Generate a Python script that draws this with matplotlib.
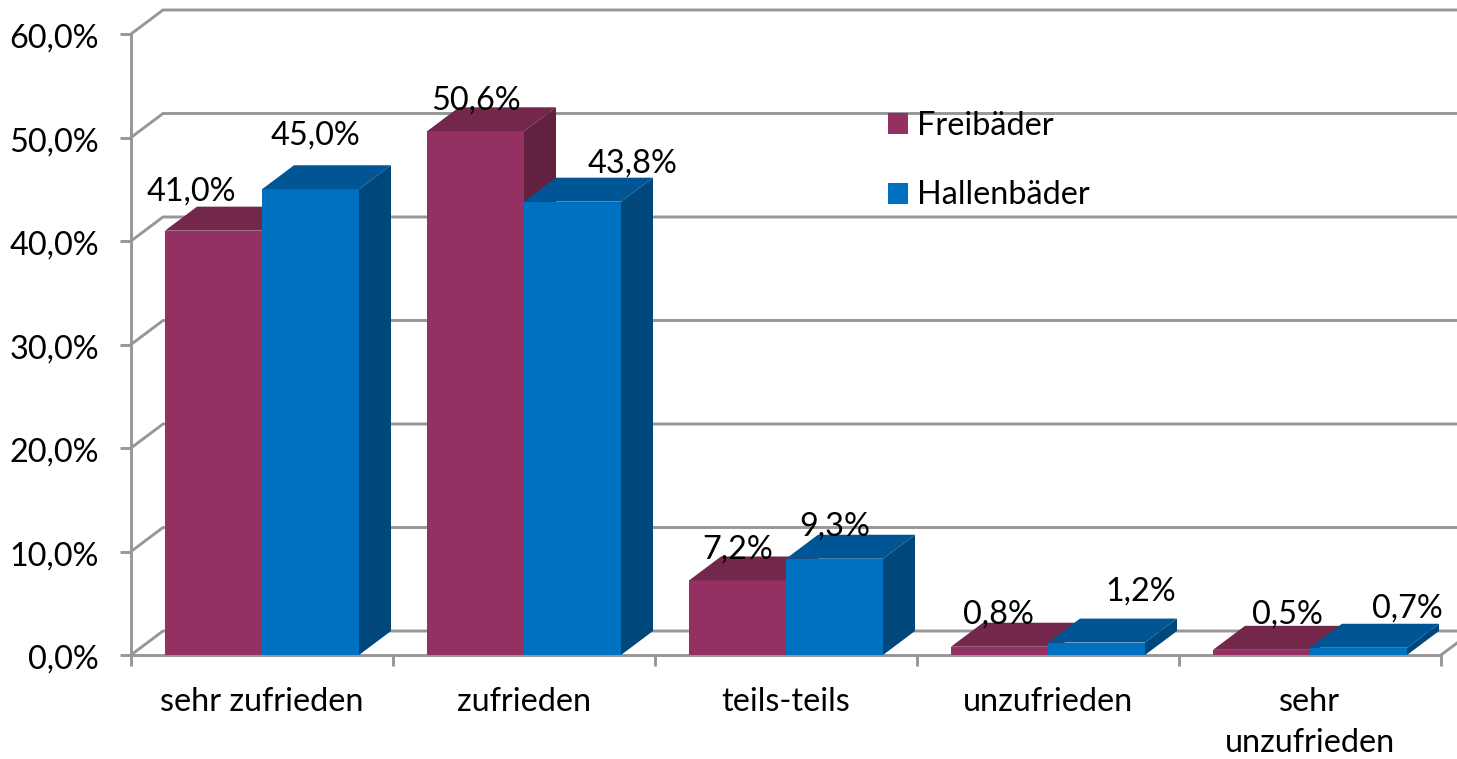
import matplotlib
matplotlib.use("Agg")
import matplotlib.pyplot as plt
from matplotlib.patches import Polygon, Patch
from matplotlib.transforms import ScaledTranslation

categories = ["sehr zufrieden", "zufrieden", "teils-teils", "unzufrieden", "sehr\nunzufrieden"]
freibaeder = [41.0, 50.6, 7.2, 0.8, 0.5]
hallenbaeder = [45.0, 43.8, 9.3, 1.2, 0.7]
y_ticks = [0, 10, 20, 30, 40, 50, 60]
y_tick_labels = ["0,0%", "10,0%", "20,0%", "30,0%", "40,0%", "50,0%", "60,0%"]
series_names = ["Freibäder", "Hallenbäder"]

W, H = 1457, 759
L, R, B, T = 131, 1441, 655, 34
GRID = "#979797"
FS = 23.3
plt.rcParams["font.family"] = ["Lato", "DejaVu Sans"]

fig = plt.figure(figsize=(W / 100, H / 100), dpi=100, facecolor="white")
ax = fig.add_axes([L / W, 1 - B / H, (R - L) / W, (B - T) / H])
ax.set_xlim(-0.5, 4.5)
ax.set_ylim(0, 60)
ax.patch.set_alpha(0)

px_x = (R - L) / 5
px_y = (B - T) / 60
dx = 32 / px_x
dy = 24 / px_y
bw = 97 / px_x

# back wall and floor
for v in y_ticks:
    ax.plot([-0.5, -0.5 + dx, 4.5 + dx], [v, v + dy, v + dy], color=GRID, lw=2.1,
            clip_on=False, zorder=1, solid_joinstyle="miter")
ax.plot([4.5, 4.5 + dx], [0, dy], color=GRID, lw=2.1, clip_on=False, zorder=1)

styles = [("#953162", "#72274b", "#62223f"), ("#0070c0", "#005694", "#00487c")]
offsets = [
    [(-22.5, 39), (0, 31), (0, 31), (-1, 32), (26, 35)],
    [(4.5, 54), (59.5, 38), (0, 32), (44.5, 51), (48.5, 39)],
]
label_texts = [[f"{v:.1f}%".replace(".", ",") for v in s] for s in (freibaeder, hallenbaeder)]

z = 3
for i in range(len(categories)):
    for s, vals in enumerate((freibaeder, hallenbaeder)):
        v = vals[i]
        x0 = i - bw + s * bw
        x1 = x0 + bw
        front, top, side = styles[s]
        ax.bar(x0, v, bw, align="edge", color=front, lw=0, zorder=z, clip_on=False)
        ax.add_patch(Polygon([(x0, v), (x1, v), (x1 + dx, v + dy), (x0 + dx, v + dy)],
                             closed=True, fc=top, ec="none", zorder=z, clip_on=False))
        ax.add_patch(Polygon([(x1, 0), (x1 + dx, dy), (x1 + dx, v + dy), (x1, v)],
                             closed=True, fc=side, ec="none", zorder=z, clip_on=False))
        z += 1
for s, vals in enumerate((freibaeder, hallenbaeder)):
    for i, v in enumerate(vals):
        xc = i - bw + s * bw + bw / 2
        ox, oy = offsets[s][i]
        ax.annotate(label_texts[s][i], (xc, v), xytext=(ox * 0.72, oy * 0.72),
                    textcoords="offset points", ha="center", va="center",
                    fontsize=FS, color="black", zorder=50, annotation_clip=False)

# axes
for name in ("top", "right"):
    ax.spines[name].set_visible(False)
for name in ("left", "bottom"):
    ax.spines[name].set_color(GRID)
    ax.spines[name].set_linewidth(2.1)
    ax.spines[name].set_zorder(2)
ax.set_yticks(y_ticks)
ax.set_yticklabels(y_tick_labels, fontsize=FS)
ax.set_xticks(range(len(categories)))
ax.set_xticklabels(categories, fontsize=FS, linespacing=1.45)
ax.set_xticks([-0.5, 0.5, 1.5, 2.5, 3.5, 4.5], minor=True)
ax.tick_params(axis="x", which="major", length=0, pad=23)
ax.tick_params(axis="x", which="minor", length=8, width=2.1, color=GRID)
ax.tick_params(axis="y", length=8, width=2.1, color=GRID, pad=15)
shift = ScaledTranslation(0, -2 / 100, fig.dpi_scale_trans)
for lab in ax.get_yticklabels():
    lab.set_transform(lab.get_transform() + shift)

handles = [Patch(fc=styles[0][0], ec="none", label=series_names[0]),
           Patch(fc=styles[1][0], ec="none", label=series_names[1])]
fig.legend(handles=handles, loc="upper left", bbox_to_anchor=(888 / W, 1 - 111 / H),
           frameon=False, fontsize=FS, handlelength=0.62, handleheight=0.62,
           handletextpad=0.28, labelspacing=1.22, borderpad=0, borderaxespad=0)

fig.savefig("out.png", dpi=100, facecolor="white")
